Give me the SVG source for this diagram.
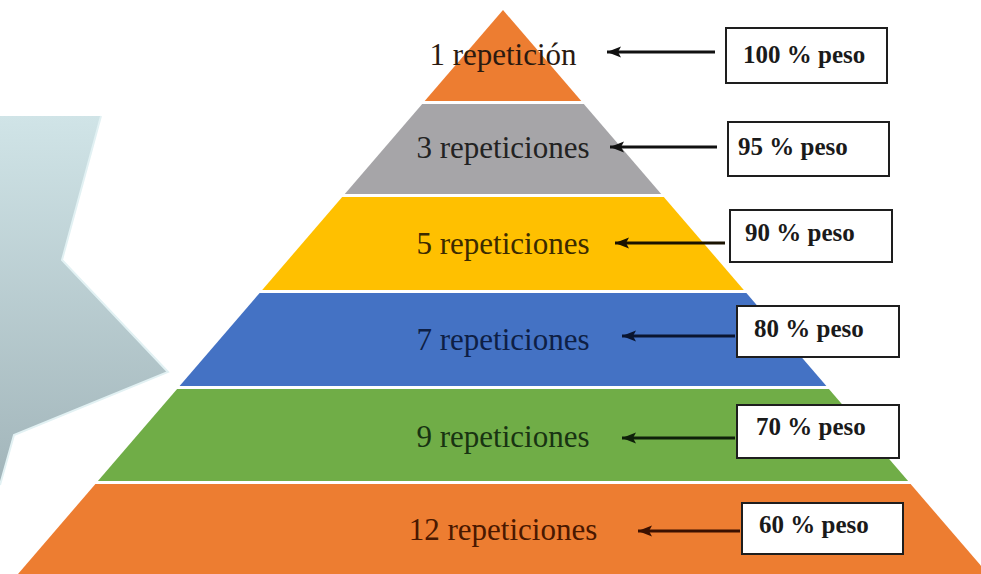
<svg xmlns="http://www.w3.org/2000/svg" width="981" height="574" viewBox="0 0 981 574">
<defs>
<linearGradient id="bg" x1="0" y1="0" x2="0" y2="1">
<stop offset="0" stop-color="#d0e4e7"/>
<stop offset="1" stop-color="#a2b5ba"/>
</linearGradient>
<marker id="ah" markerUnits="userSpaceOnUse" markerWidth="15" markerHeight="12" refX="14" refY="6" orient="auto">
<path d="M0,0.5 L14,6 L0,11.5 L3,6 Z" fill="context-stroke"/>
</marker>
<style>
.lbl{font-family:"Liberation Serif","Times New Roman",serif;font-size:31px;text-anchor:middle}
.box rect{fill:#fff;stroke:#1e1e1e;stroke-width:2}
.box text{font-family:"Liberation Serif","Times New Roman",serif;font-size:25px;font-weight:bold;fill:#1a1a1a}
.arr{stroke-width:2.8;fill:none;marker-end:url(#ah)}
</style>
</defs>
<rect width="981" height="574" fill="#fff"/>
<g id="backdrop">
<polygon points="0,116 101,116 62,260 168,372 14,435 0,485" fill="url(#bg)"/>
<polyline points="101,116 62,260 168,372 14,435 0,485" fill="none" stroke="#e2f1f3" stroke-width="2"/>
</g>
<g id="band1"><polygon points="503,10 581.3,101 424.7,101" fill="#ED7D31"/><text class="lbl" x="503" y="65" fill="#2b1a10">1 repetición</text></g>
<g id="band2"><polygon points="422.2,104 583.8,104 661.2,194 344.8,194" fill="#A6A5A8"/><text class="lbl" x="503" y="158" fill="#222">3 repeticiones</text></g>
<g id="band3"><polygon points="342.2,197 663.8,197 743.8,290 262.2,290" fill="#FFC000"/><text class="lbl" x="503" y="254" fill="#3b2a00">5 repeticiones</text></g>
<g id="band4"><polygon points="259.6,293 746.4,293 826.4,386 179.6,386" fill="#4472C4"/><text class="lbl" x="503" y="350" fill="#0e1f45">7 repeticiones</text></g>
<g id="band5"><polygon points="177.1,389 828.9,389 908.1,481 97.9,481" fill="#70AD47"/><text class="lbl" x="503" y="447" fill="#183312">9 repeticiones</text></g>
<g id="band6"><polygon points="95.4,484 910.6,484 988,574 18,574" fill="#ED7D31"/><text class="lbl" x="503" y="540" fill="#4a1800">12 repeticiones</text></g>
<g id="connectors">
<path class="arr" stroke="#111" d="M715,52 H607"/>
<path class="arr" stroke="#111" d="M717,147 H610"/>
<path class="arr" stroke="#1a1200" d="M725,243 H615"/>
<path class="arr" stroke="#0a1530" d="M735,336 H622"/>
<path class="arr" stroke="#0f200a" d="M735,438 H622"/>
<path class="arr" stroke="#3a1000" d="M740,531 H638"/>
</g>
<g id="box1" class="box"><rect x="726" y="28" width="161" height="55"/><text x="743" y="63">100 % peso</text></g>
<g id="box2" class="box"><rect x="728" y="122" width="161" height="54"/><text x="738" y="155">95 % peso</text></g>
<g id="box3" class="box"><rect x="730" y="210" width="162" height="52"/><text x="745" y="241">90 % peso</text></g>
<g id="box4" class="box"><rect x="737" y="306" width="162" height="51"/><text x="754" y="337">80 % peso</text></g>
<g id="box5" class="box"><rect x="737" y="405" width="162" height="53"/><text x="756" y="435">70 % peso</text></g>
<g id="box6" class="box"><rect x="742" y="503" width="161" height="51"/><text x="759" y="533">60 % peso</text></g>
</svg>
